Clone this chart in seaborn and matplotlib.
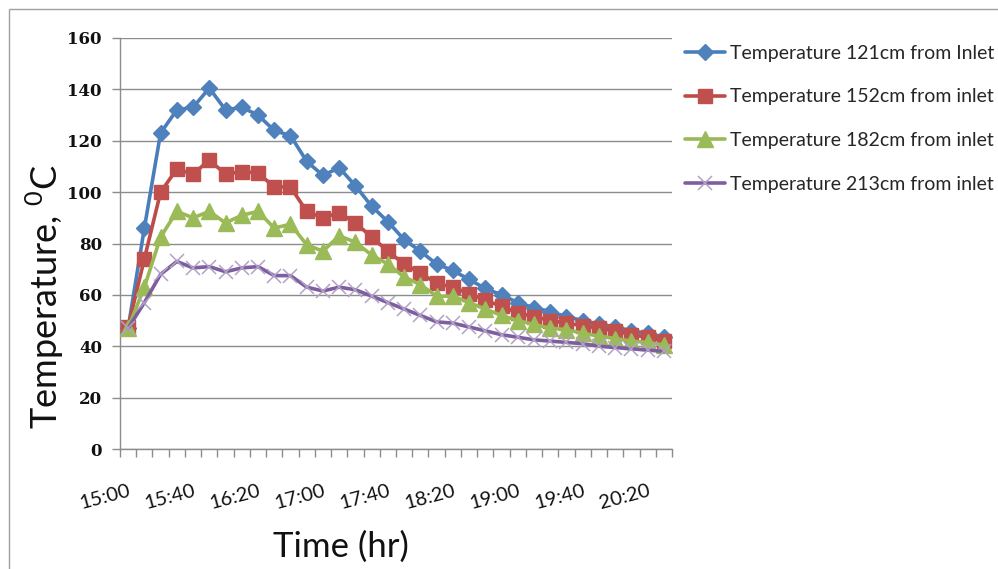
import numpy as np
import pandas as pd
import matplotlib
matplotlib.use("Agg")
import matplotlib.pyplot as plt
import seaborn as sns
from matplotlib.patches import Rectangle

# ---------------- data ----------------
times = ["15:00", "15:10", "15:20", "15:30", "15:40", "15:50", "16:00", "16:10", "16:20",
         "16:30", "16:40", "16:50", "17:00", "17:10", "17:20", "17:30", "17:40", "17:50",
         "18:00", "18:10", "18:20", "18:30", "18:40", "18:50", "19:00", "19:10", "19:20",
         "19:30", "19:40", "19:50", "20:00", "20:10", "20:20", "20:30"]

t121 = [47, 86, 123, 132, 133, 140.5, 132, 133, 130, 124, 122, 112, 106.5, 109.5, 102.5, 94.5,
        88.5, 81.5, 77, 72, 69.5, 66, 62.5, 60, 57, 55, 53.5, 51.5, 50, 48.5, 47.5, 46, 45, 43.5]
t152 = [47.5, 74, 100, 109, 107, 112.5, 107, 108, 107.5, 102, 102, 92.5, 90, 92, 88, 82.5,
        77, 72, 68.5, 64.5, 63, 60.5, 58, 55.5, 53, 51.5, 50, 49, 48, 47, 46, 44.5, 43.5, 42]
t182 = [47, 63, 82.5, 92.5, 90, 92.5, 88, 91, 92.5, 86, 87.5, 79.5, 77, 83, 80.5, 75.5,
        72, 67, 64, 59.5, 59.5, 57, 54.5, 52, 50, 48.5, 47, 46.5, 45, 44, 43, 42, 41.5, 40.5]
t213 = [47, 57, 68, 73, 70.5, 71, 69, 70.5, 71, 67.5, 67.5, 63, 61.5, 63, 62, 59.5,
        57, 54.5, 52, 49.5, 49, 47.5, 46, 44.5, 43.5, 42.5, 42, 41.5, 41, 40, 39.5, 39, 38.5, 38]

series_names = ["Temperature 121cm from Inlet", "Temperature 152cm from inlet",
                "Temperature 182cm from inlet", "Temperature 213cm from inlet"]
tick_labels = ["15:00", "15:40", "16:20", "17:00", "17:40", "18:20", "19:00", "19:40", "20:20"]
y_ticks = [0, 20, 40, 60, 80, 100, 120, 140, 160]

# ---------------- style ----------------
sns.set_style("white")
plt.rcParams["font.family"] = ["Lato", "DejaVu Sans"]
plt.rcParams["mathtext.fontset"] = "custom"
plt.rcParams["mathtext.rm"] = "Lato"

fig = plt.figure(figsize=(9.98, 5.69), dpi=100)
ax = fig.add_axes([120 / 998, 1 - 449 / 569, (672 - 120) / 998, (449 - 38) / 569])

styles = [
    dict(color="#4a7ebb", marker="D", ms=8.5, mfc="#4f81bd", mec="#4f81bd", mew=1),
    dict(color="#be4b48", marker="s", ms=10, mfc="#c0504d", mec="#c0504d", mew=1),
    dict(color="#98b954", marker="^", ms=11, mfc="#9bbb59", mec="#9bbb59", mew=1),
    dict(color="#7d5fa0", marker="x", ms=10, mfc="#b3a2c7", mec="#b3a2c7", mew=1.1),
]

pos = np.arange(len(times))
for name, vals, st in zip(series_names, [t121, t152, t182, t213], styles):
    df = pd.DataFrame({"pos": pos, "time": times, "temp": vals})
    sns.lineplot(data=df, x="pos", y="temp", ax=ax, color=st["color"], lw=2.6,
                 marker=st["marker"], markersize=st["ms"], markerfacecolor=st["mfc"],
                 markeredgecolor=st["mec"], markeredgewidth=st["mew"], label=name,
                 zorder=3)

ax.set_xlim(-0.5, len(times) - 0.5)
ax.set_ylim(0, 160)
ax.set_yticks(y_ticks)
ax.set_yticklabels([str(v) for v in y_ticks], family=["DejaVu Serif"], fontweight="bold",
                   fontsize=12)
ax.yaxis.grid(True, color="#8c8c8c", lw=1)
ax.xaxis.grid(False)
ax.set_axisbelow(True)

# category boundary tick marks (no labels), labels at category centres
ax.set_xticks(np.arange(-0.5, len(times) + 0.5, 1), minor=True)
ax.set_xticks([times.index(t) for t in tick_labels])
ax.set_xticklabels(tick_labels, rotation=15, ha="right", rotation_mode="anchor",
                   fontsize=14.5, color="#111111")
ax.tick_params(axis="x", which="major", length=0, pad=24)
ax.tick_params(axis="x", which="minor", length=6, color="#8c8c8c", width=1, direction="out")
ax.tick_params(axis="y", length=6, color="#8c8c8c", width=1, direction="out", pad=7,
               labelcolor="#111111")
ax.tick_params(bottom=True, left=True, which="both")

for s in ["top", "right"]:
    ax.spines[s].set_visible(False)
for s in ["left", "bottom"]:
    ax.spines[s].set_color("#8c8c8c")
    ax.spines[s].set_linewidth(1)

ax.set_xlabel("Time (hr)", fontsize=25, color="#111111")
ax.xaxis.set_label_coords((341 - 120) / 552, (449 - 547) / 411)
ax.xaxis.label.set_va("center")
ax.set_ylabel(r"Temperature, $^{0}$C", fontsize=26, color="#111111")
ax.yaxis.set_label_coords((45 - 120) / 552, (449 - 297) / 411)
ax.yaxis.label.set_va("center")

handles, labels = ax.get_legend_handles_labels()
ax.get_legend().remove()
fig.legend(handles, labels, loc="upper left", bbox_to_anchor=(685 / 998, 1 - 44.5 / 569),
           frameon=False, fontsize=14, handlelength=2.06, handletextpad=0.27,
           labelspacing=1.38, borderaxespad=0, borderpad=0)

# outer chart frame
fig.patches.append(Rectangle((9 / 998, -0.05), 1.2, 1 - 9 / 569 + 0.05,
                             transform=fig.transFigure, fill=False,
                             edgecolor="#a0a0a0", lw=1))

fig.savefig("out.png", dpi=100)
